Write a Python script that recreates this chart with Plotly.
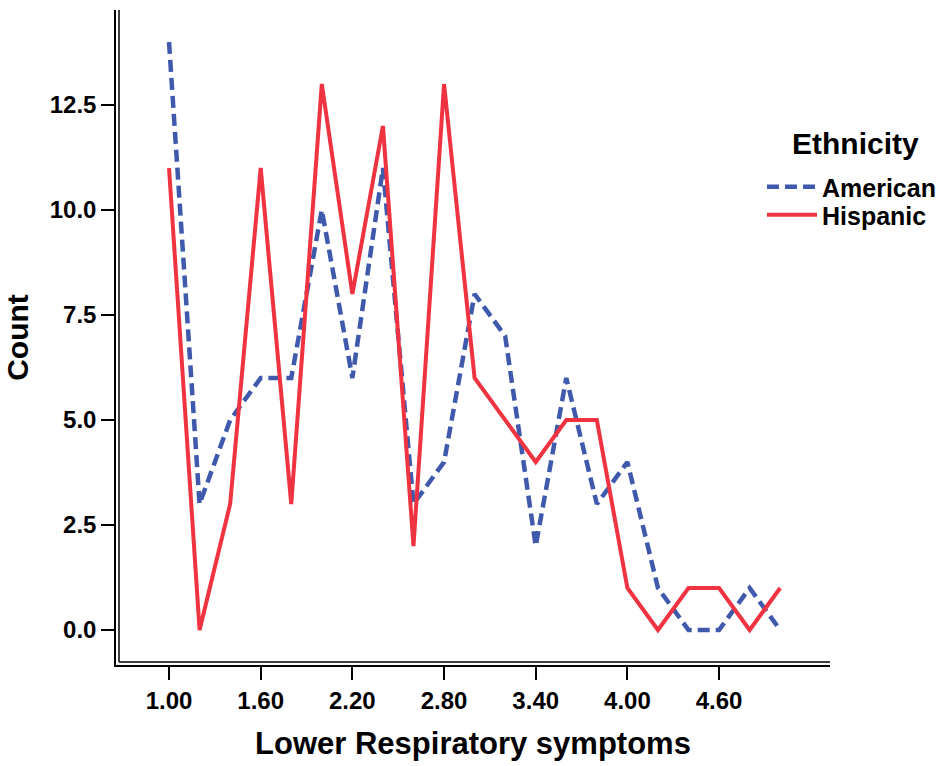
import plotly.graph_objects as go

symptoms = [1.0, 1.2, 1.4, 1.6, 1.8, 2.0, 2.2, 2.4, 2.6, 2.8, 3.0,
            3.2, 3.4, 3.6, 3.8, 4.0, 4.2, 4.4, 4.6, 4.8, 5.0]
american = [14, 3, 5, 6, 6, 10, 6, 11, 3, 4, 8, 7, 2, 6, 3, 4, 1, 0, 0, 1, 0]
hispanic = [11, 0, 3, 11, 3, 13, 8, 12, 2, 13, 6, 5, 4, 5, 5, 1, 0, 1, 1, 0, 1]
x_ticks = [1.0, 1.6, 2.2, 2.8, 3.4, 4.0, 4.6]
x_tick_labels = ["1.00", "1.60", "2.20", "2.80", "3.40", "4.00", "4.60"]
y_ticks = [0, 2.5, 5.0, 7.5, 10.0, 12.5]
y_tick_labels = ["0.0", "2.5", "5.0", "7.5", "10.0", "12.5"]

BLUE = "#3F59AD"
RED = "#EF3340"
FONT = "Liberation Sans, Arial, sans-serif"

W, H = 946, 766
L, R, T, B = 116, 116, 10, 101
pw, ph = W - L - R, H - T - B

fig = go.Figure()
fig.add_trace(go.Scatter(x=symptoms, y=american, mode="lines", name="American",
                         legend="legend", showlegend=True,
                         line=dict(color=BLUE, width=4.5, dash="12px,6px")))
fig.add_trace(go.Scatter(x=symptoms, y=hispanic, mode="lines", name="Hispanic",
                         legend="legend2", showlegend=True,
                         line=dict(color=RED, width=4)))

axis_common = dict(showgrid=False, zeroline=False, showline=True, linecolor="black",
                   linewidth=1.5, ticks="outside", ticklen=13, tickwidth=2,
                   tickcolor="black",
                   tickfont=dict(family=FONT, size=24, color="black", weight="bold"))

fig.update_xaxes(range=[0.653, 5.326], tickvals=x_ticks, ticktext=x_tick_labels,
                 title=dict(text="Lower Respiratory symptoms", standoff=20,
                            font=dict(family=FONT, size=31, color="black", weight="bold")),
                 **axis_common)
fig.update_yaxes(range=[-0.833, 14.762], tickvals=y_ticks, ticktext=y_tick_labels,
                 title=dict(text="Count", standoff=12,
                            font=dict(family=FONT, size=30, color="black", weight="bold")),
                 **axis_common)

# inner parallel lines of the double axis frame
fig.add_shape(type="line", xref="paper", yref="paper", x0=3 / pw, x1=3 / pw,
              y0=3 / ph, y1=1, line=dict(color="black", width=1.5))
fig.add_shape(type="line", xref="paper", yref="paper", x0=3 / pw, x1=1,
              y0=3 / ph, y1=3 / ph, line=dict(color="black", width=1.5))

# legend title
fig.add_annotation(text="Ethnicity", xref="paper", yref="paper",
                   x=(855 - L) / pw, y=1 - (143 - T) / ph,
                   xanchor="center", yanchor="middle", showarrow=False,
                   font=dict(family=FONT, size=30, color="black", weight="bold"))

entry_font = dict(family=FONT, size=25, color="black", weight="bold")
fig.update_layout(
    width=W, height=H,
    showlegend=True,
    margin=dict(l=L, r=R, t=T, b=B, autoexpand=False),
    plot_bgcolor="white", paper_bgcolor="white",
    font=dict(family=FONT, color="black"),
    legend=dict(x=(762 - L) / pw, y=1 - (187 - T) / ph, xanchor="left", yanchor="middle",
                itemwidth=50, visible=True, font=entry_font, bgcolor="rgba(0,0,0,0)"),
    legend2=dict(x=(762 - L) / pw, y=1 - (215 - T) / ph, xanchor="left", yanchor="middle",
                 itemwidth=50, visible=True, font=entry_font, bgcolor="rgba(0,0,0,0)"),
)

fig.write_html("out.html")
